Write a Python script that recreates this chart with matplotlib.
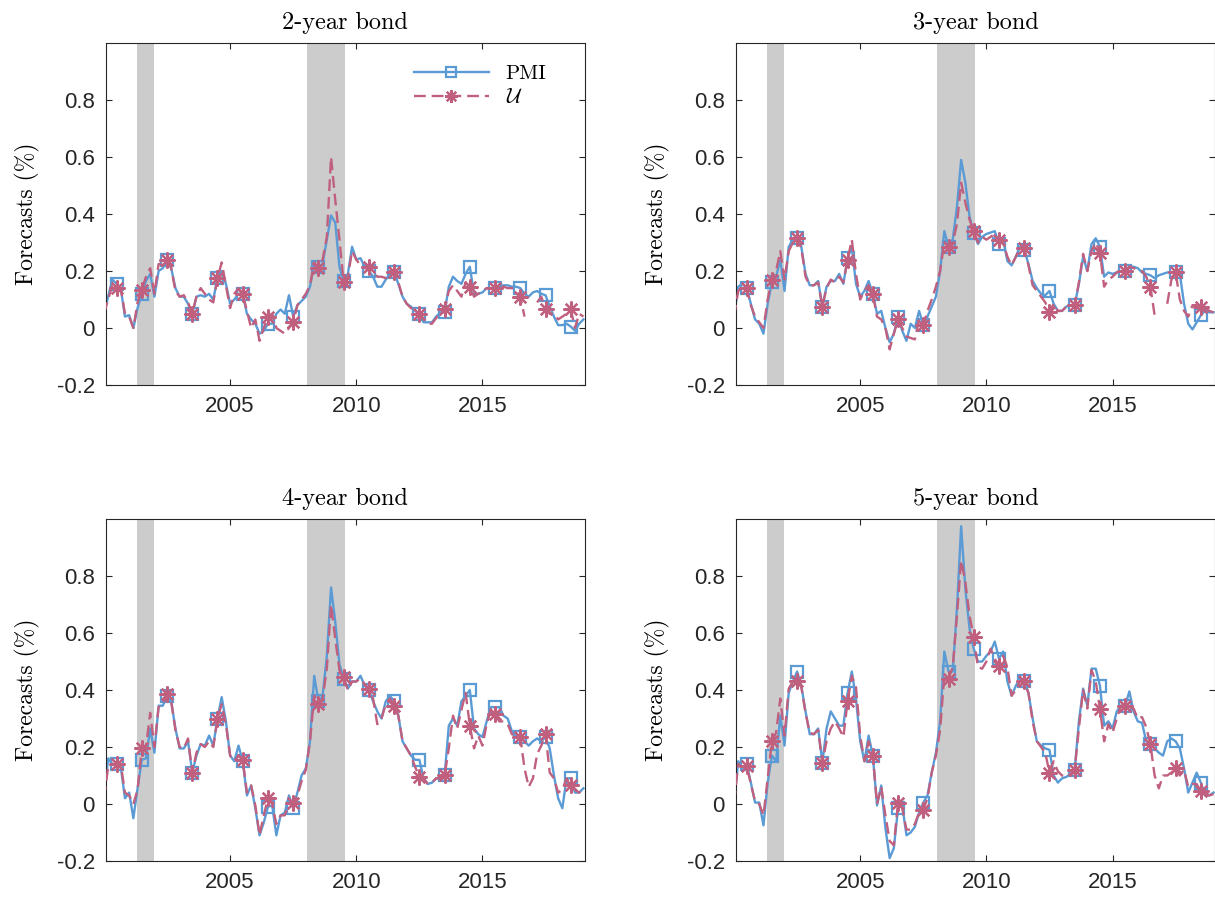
import matplotlib.pyplot as plt
import numpy as np
from matplotlib.ticker import FixedLocator, FixedFormatter

plt.rcParams['font.family'] = ['Liberation Sans', 'DejaVu Sans']
plt.rcParams['mathtext.fontset'] = 'cm'
plt.rcParams['axes.unicode_minus'] = False

# bi-monthly grid, Jan 2000 .. Jan 2019 (markers sit on mid-year points)
dates = 2000 + np.arange(115) / 6

recessions = [(2001.30, 2001.98), (2008.05, 2009.55)]
titles = ['2-year bond', '3-year bond', '4-year bond', '5-year bond']
xticks = [2005, 2010, 2015]
yticks = [-0.2, 0, 0.2, 0.4, 0.6, 0.8]
ytick_labels = ['-0.2', '0', '0.2', '0.4', '0.6', '0.8']
nan = np.nan

# ---- 2-year bond ----
pmi_2y = [0.05, 0.11, 0.17, 0.155, 0.14, 0.04,
          0.045, 0.0, 0.07, 0.12, 0.165, 0.19,
          0.11, 0.2, 0.21, 0.24, 0.21, 0.14,
          0.11, 0.11, 0.085, 0.05, 0.11, 0.115,
          0.11, 0.12, 0.10, 0.175, 0.2, 0.155,
          0.085, 0.10, 0.12, 0.12, 0.05, 0.03,
          0.015, -0.02, -0.01, 0.015, 0.015, 0.05,
          0.065, 0.05, 0.115, 0.04, 0.08, 0.095,
          0.11, 0.145, 0.225, 0.215, 0.225, 0.31,
          0.395, 0.37, 0.215, 0.165, 0.19, 0.285,
          0.24, 0.245, 0.215, 0.2, 0.18, 0.145,
          0.145, 0.17, 0.19, 0.195, 0.155, 0.11,
          0.085, 0.075, 0.06, 0.05, 0.02, 0.02,
          0.02, 0.04, 0.055, 0.055, 0.145, 0.18,
          0.165, 0.155, 0.19, 0.215, 0.12, 0.12,
          0.125, 0.14, 0.14, 0.14, 0.145, 0.15,
          0.15, 0.145, 0.145, 0.14, 0.12, 0.11,
          0.125, 0.13, 0.12, 0.115, 0.075, 0.04,
          0.01, 0.01, 0.015, 0.005, -0.01, 0.015,
          0.03]
u_2y = [0.05, 0.10, 0.15, 0.14, 0.14, 0.05,
        0.04, 0.0, 0.09, 0.135, 0.18, 0.21,
        0.12, 0.225, 0.22, 0.24, 0.21, 0.13,
        0.11, 0.115, 0.09, 0.05, 0.11, 0.14,
        0.12, 0.10, 0.09, 0.175, 0.23, 0.15,
        0.07, 0.12, 0.14, 0.12, 0.06, 0.0,
        0.03, -0.045, 0.0, 0.04, 0.05, 0.0,
        -0.01, -0.02, 0.0, 0.02, 0.08, 0.10,
        0.12, 0.15, 0.23, 0.21, 0.24, 0.32,
        0.60, 0.45, 0.31, 0.16, 0.18, 0.27,
        0.24, 0.22, 0.21, 0.215, 0.20, 0.18,
        0.18, 0.175, 0.20, 0.195, 0.16, 0.11,
        0.085, 0.07, 0.06, 0.05, 0.03, 0.015,
        0.015, 0.035, 0.055, 0.065, 0.13, 0.15,
        0.13, 0.11, 0.16, 0.145, 0.11, 0.12,
        0.13, 0.14, 0.14, 0.14, 0.145, 0.145,
        0.14, 0.14, 0.13, 0.11, 0.04, nan,
        nan, 0.09, 0.11, 0.065, 0.05, 0.05,
        0.03, 0.04, 0.05, 0.065, 0.0, 0.05,
        0.04]

# ---- 3-year bond ----
pmi_3y = [0.04, 0.145, 0.155, 0.14, 0.085, 0.03,
          0.015, -0.02, 0.085, 0.16, 0.18, 0.24,
          0.13, 0.285, 0.31, 0.315, 0.285, 0.19,
          0.15, 0.15, 0.165, 0.075, 0.145, 0.165,
          0.165, 0.19, 0.155, 0.245, 0.285, 0.155,
          0.11, 0.13, 0.165, 0.12, 0.05, 0.06,
          0.0, -0.05, -0.02, 0.04, -0.01, -0.045,
          0.015, 0.0, 0.06, 0.01, 0.04, 0.075,
          0.11, 0.2, 0.34, 0.285, 0.31, 0.425,
          0.59, 0.51, 0.39, 0.335, 0.295, 0.32,
          0.33, 0.335, 0.34, 0.295, 0.31, 0.235,
          0.22, 0.25, 0.285, 0.275, 0.225, 0.165,
          0.14, 0.12, 0.115, 0.13, 0.085, 0.06,
          0.06, 0.075, 0.08, 0.08, 0.155, 0.25,
          0.2, 0.295, 0.315, 0.285, 0.18, 0.195,
          0.19, 0.195, 0.2, 0.2, 0.215, 0.215,
          0.21, 0.195, 0.19, 0.185, 0.175, 0.185,
          0.19, 0.195, 0.195, 0.195, 0.19, 0.085,
          0.015, -0.005, 0.02, 0.045, 0.06, 0.055,
          0.055]
u_3y = [0.04, 0.13, 0.145, 0.14, 0.08, 0.04,
        0.02, 0.0, 0.10, 0.17, 0.20, 0.27,
        0.17, 0.27, 0.30, 0.315, 0.28, 0.18,
        0.15, 0.15, 0.16, 0.075, 0.14, 0.17,
        0.16, 0.18, 0.16, 0.24, 0.31, 0.19,
        0.10, 0.13, 0.15, 0.12, 0.04, 0.03,
        0.0, -0.075, -0.02, 0.03, 0.0, -0.03,
        -0.035, -0.04, 0.03, 0.01, 0.06, 0.10,
        0.145, 0.20, 0.30, 0.285, 0.30, 0.365,
        0.51, 0.44, 0.38, 0.34, 0.30, 0.32,
        0.31, 0.32, 0.33, 0.31, 0.30, 0.25,
        0.22, 0.25, 0.28, 0.28, 0.22, 0.15,
        0.13, 0.11, 0.09, 0.055, 0.085, 0.06,
        0.06, 0.075, 0.08, 0.08, 0.16, 0.26,
        0.20, 0.27, 0.30, 0.265, 0.145, 0.17,
        0.18, 0.195, 0.20, 0.20, 0.215, 0.21,
        0.205, 0.20, 0.18, 0.145, 0.045, nan,
        nan, 0.085, 0.17, 0.195, 0.10, 0.06,
        0.04, 0.08, 0.08, 0.075, 0.07, 0.06,
        0.055]

# ---- 4-year bond ----
pmi_4y = [0.02, 0.16, 0.14, 0.14, 0.13, 0.02,
          0.04, -0.05, 0.055, 0.155, 0.16, 0.265,
          0.18, 0.345, 0.345, 0.38, 0.36, 0.265,
          0.195, 0.195, 0.22, 0.11, 0.17, 0.21,
          0.205, 0.24, 0.205, 0.30, 0.375, 0.29,
          0.17, 0.15, 0.205, 0.15, 0.03, 0.065,
          -0.015, -0.11, -0.065, -0.01, -0.005, -0.11,
          -0.04, -0.03, 0.03, -0.015, 0.04, 0.10,
          0.125, 0.22, 0.45, 0.36, 0.38, 0.52,
          0.76, 0.64, 0.49, 0.44, 0.405, 0.43,
          0.43, 0.45, 0.415, 0.40, 0.36, 0.325,
          0.30, 0.36, 0.38, 0.36, 0.31, 0.22,
          0.195, 0.17, 0.155, 0.155, 0.09, 0.07,
          0.075, 0.09, 0.09, 0.10, 0.275, 0.30,
          0.275, 0.36, 0.38, 0.40, 0.265, 0.245,
          0.235, 0.29, 0.34, 0.34, 0.34, 0.31,
          0.30, 0.255, 0.24, 0.235, 0.22, 0.205,
          0.22, 0.23, 0.22, 0.235, 0.195, 0.10,
          0.02, -0.015, 0.09, 0.09, 0.04, 0.04,
          0.055]
u_4y = [0.02, 0.13, 0.14, 0.14, 0.14, 0.04,
        0.03, 0.0, 0.05, 0.195, 0.20, 0.32,
        0.20, 0.34, 0.35, 0.385, 0.36, 0.26,
        0.20, 0.195, 0.23, 0.11, 0.18, 0.21,
        0.20, 0.22, 0.20, 0.30, 0.35, 0.28,
        0.17, 0.15, 0.17, 0.155, 0.04, 0.065,
        -0.005, -0.11, -0.04, 0.02, 0.0, -0.07,
        -0.04, -0.04, 0.0, 0.005, 0.03, 0.08,
        0.12, 0.22, 0.38, 0.35, 0.37, 0.475,
        0.70, 0.58, 0.47, 0.445, 0.40, 0.43,
        0.43, 0.44, 0.42, 0.405, 0.37, 0.28,
        0.30, 0.35, 0.37, 0.345, 0.31, 0.22,
        0.195, 0.17, 0.13, 0.095, 0.09, 0.07,
        0.075, 0.09, 0.09, 0.10, 0.195, 0.31,
        0.265, 0.33, 0.39, 0.275, 0.195, 0.24,
        0.205, 0.28, 0.33, 0.315, 0.29, 0.29,
        0.28, 0.245, 0.24, 0.235, 0.125, 0.06,
        0.09, 0.175, 0.205, 0.245, 0.11, 0.09,
        0.04, 0.05, 0.09, 0.065, 0.05, 0.04,
        0.05]

# ---- 5-year bond ----
pmi_5y = [0.005, 0.15, 0.125, 0.14, 0.075, 0.005,
          0.005, -0.075, 0.075, 0.17, 0.15, 0.31,
          0.205, 0.39, 0.43, 0.465, 0.415, 0.325,
          0.245, 0.245, 0.265, 0.145, 0.265, 0.325,
          0.30, 0.275, 0.275, 0.39, 0.465, 0.37,
          0.22, 0.15, 0.24, 0.17, -0.005, 0.065,
          -0.085, -0.19, -0.155, -0.015, -0.005, -0.11,
          -0.10, -0.08, -0.03, 0.005, 0.03, 0.11,
          0.18, 0.29, 0.535, 0.465, 0.465, 0.685,
          0.975, 0.755, 0.615, 0.545, 0.50, 0.50,
          0.52, 0.535, 0.57, 0.51, 0.535, 0.43,
          0.38, 0.415, 0.44, 0.43, 0.39, 0.30,
          0.22, 0.205, 0.195, 0.19, 0.10, 0.075,
          0.09, 0.095, 0.105, 0.12, 0.29, 0.405,
          0.345, 0.475, 0.475, 0.415, 0.275, 0.29,
          0.265, 0.325, 0.345, 0.345, 0.395, 0.325,
          0.29, 0.285, 0.22, 0.21, 0.195, 0.18,
          0.17, 0.22, 0.23, 0.22, 0.195, 0.125,
          0.04, 0.075, 0.11, 0.075, 0.03, 0.03,
          0.04]
u_5y = [0.005, 0.14, 0.13, 0.135, 0.07, 0.01,
        0.0, -0.04, 0.09, 0.22, 0.25, 0.37,
        0.24, 0.405, 0.43, 0.43, 0.41, 0.32,
        0.25, 0.245, 0.26, 0.145, 0.22, 0.265,
        0.29, 0.265, 0.235, 0.36, 0.45, 0.41,
        0.24, 0.15, 0.22, 0.17, 0.0, 0.06,
        -0.04, -0.13, -0.145, 0.005, -0.015, -0.09,
        -0.09, -0.07, -0.03, -0.02, 0.02, 0.11,
        0.17, 0.26, 0.45, 0.44, 0.48, 0.66,
        0.855, 0.78, 0.66, 0.585, 0.48, 0.475,
        0.50, 0.545, 0.51, 0.485, 0.52, 0.48,
        0.38, 0.40, 0.43, 0.43, 0.39, 0.29,
        0.22, 0.20, 0.18, 0.11, 0.15, 0.115,
        0.10, 0.095, 0.105, 0.12, 0.265, 0.40,
        0.335, 0.47, 0.43, 0.335, 0.22, 0.28,
        0.25, 0.30, 0.345, 0.345, 0.34, 0.335,
        0.30, 0.305, 0.27, 0.21, 0.10, 0.055,
        0.10, 0.10, 0.11, 0.125, 0.10, 0.12,
        0.06, 0.07, 0.07, 0.045, 0.04, 0.03,
        0.035]

pmi_series = [pmi_2y, pmi_3y, pmi_4y, pmi_5y]
u_series = [u_2y, u_3y, u_4y, u_5y]

PMI_COLOR = '#5b9bd5'
U_COLOR = '#c0607e'
TEXT_COLOR = '#262626'
SERIF = 'cmr10'

fig = plt.figure(figsize=(12.15, 9.02), dpi=100)
positions = [[0.0872, 0.5732, 0.3942, 0.379],
             [0.6058, 0.5732, 0.3942, 0.379],
             [0.0872, 0.0455, 0.3942, 0.379],
             [0.6058, 0.0455, 0.3942, 0.379]]

for i in range(4):
    ax = fig.add_axes(positions[i])
    for a, b in recessions:
        ax.axvspan(a, b, color='#cccccc', lw=0, zorder=0)
    ax.plot(dates, pmi_series[i], '-', color=PMI_COLOR, lw=1.7,
            marker='s', ms=8.5, mfc='none', mew=1.6, markevery=slice(3, None, 6),
            label='PMI', zorder=2)
    ax.plot(dates, u_series[i], '--', color=U_COLOR, lw=1.7, dashes=(5, 2.5),
            marker=(8, 2, 0), ms=11.5, mew=1.6, markevery=slice(3, None, 6),
            label=r'$\mathcal{U}$', zorder=3)

    ax.set_xlim(2000.08, 2019.06)
    ax.set_ylim(-0.2, 1.0)
    ax.xaxis.set_major_locator(FixedLocator(xticks))
    ax.yaxis.set_major_locator(FixedLocator(yticks))
    ax.yaxis.set_major_formatter(FixedFormatter(ytick_labels))
    ax.tick_params(direction='in', length=4, width=0.8, top=True, right=True,
                   labelsize=16, colors=TEXT_COLOR, pad=8)
    for s in ax.spines.values():
        s.set_color(TEXT_COLOR)
        s.set_linewidth(0.8)

    ax.set_title(titles[i], fontfamily=SERIF, fontsize=17.5, color='black', pad=10)
    ax.set_ylabel('Forecasts (%)', fontfamily=SERIF, fontsize=17, color='black',
                  labelpad=12)

    if i == 0:
        ax.legend(loc='upper right', frameon=False, prop={'family': SERIF, 'size': 15},
                  handlelength=3.6, borderaxespad=0.3, labelspacing=0.25,
                  bbox_to_anchor=(0.95, 0.98), markerscale=0.8)

fig.savefig('out.png', dpi=100)
